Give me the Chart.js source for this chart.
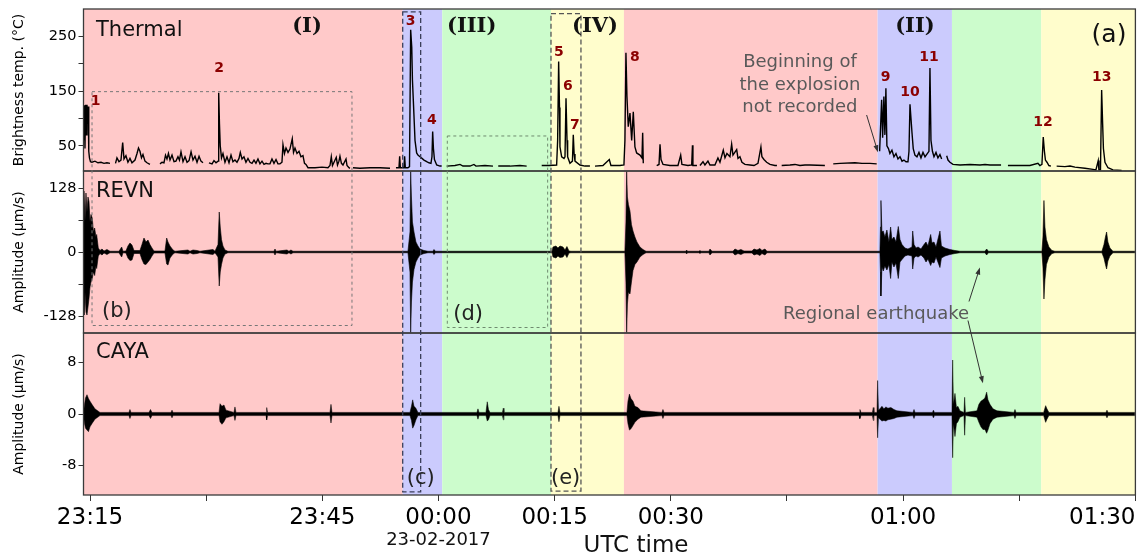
<!DOCTYPE html>
<html>
<head>
<meta charset="utf-8">
<title>Thermal and seismic records, 22-23 Feb 2017</title>
<script src="https://cdn.jsdelivr.net/npm/chart.js@4.4.1/dist/chart.umd.min.js"></script>
<style>
  html, body { margin: 0; padding: 0; background: #fff; }
  #wrap { width: 1144px; height: 559px; }
</style>
</head>
<body>
<div id="wrap"><canvas id="chart" width="1144" height="559"></canvas></div>
<script>
// time axis is in minutes relative to 00:00 UTC, 23-02-2017
const xMin = -45.84;
const xMax = 90;
const xTickValues = [-45.84, -45, -30, -15, 0, 15, 30, 45, 60, 75, 90];
const xTickLabels = ['', '23:15', '', '23:45', '00:00', '00:15', '00:30', '', '01:00', '', '01:30'];

const thermalTicks = [50, 100, 150, 200, 250];
const thermalTickLabels = ['50', '', '150', '', '250'];
const revnTicks = [-128, -64, 0, 64, 128];
const revnTickLabels = ['-128', '', '0', '', '128'];
const cayaTicks = [-8, 0, 8];
const cayaTickLabels = ['-8', '0', '8'];

// activity phases (background spans)
const phaseStart = [-45.84, -4.62, 0.49, 14.53, 23.95, 56.71, 66.31, 77.84];
const phaseEnd = [-4.62, 0.49, 14.53, 23.95, 56.71, 66.31, 77.84, 90];
const phaseColor = ['#ffc9c9', '#cbcbfd', '#ccfccc', '#fffdcc', '#ffc9c9', '#cbcbfd', '#ccfccc', '#fffdcc'];
const phaseLabelText = ['(I)', '(III)', '(IV)', '(II)'];
const phaseLabelTime = [-16.98, 4.29, 20.21, 61.53];

// thermal camera, brightness temperature (°C); null = no data
const thermalTime = [
  -45.84, -45.74, -45.65, -45.57, -45.48, -45.39, -45.31, -45.23, -45.16, -45.07, -44.94, -44.75, -44.36, -43.97, -43.58, -43.19, -42.81, -42.42, -42.0,
  -41.71, -41.52, -41.26, -41.00, -40.78, -40.61, -40.36, -40.10, -39.84, -39.58, -39.19, -38.93, -38.74, -38.55, -38.35, -38.16, -37.90, -37.64, -37.26, -37.0,
  -35.96, -35.70, -35.45, -35.25, -35.06, -34.87, -34.67, -34.41, -34.15, -33.90, -33.64, -33.45, -33.25, -32.99, -32.73, -32.47, -32.21, -31.95, -31.70, -31.44, -31.18, -30.92, -30.67, -30.41, -30.2,
  -29.64, -29.24, -28.99, -28.73, -28.47, -28.38, -28.28, -28.18, -28.02, -27.83,
  -27.57, -27.31, -27.05, -26.79, -26.54, -26.28, -26.02, -25.76, -25.59, -25.37,
  -25.12, -24.86, -24.60, -24.34, -24.08, -23.82, -23.57, -23.31, -23.05, -22.79,
  -22.53, -22.27, -22.02, -21.76, -21.50, -21.24, -20.98, -20.73, -20.47, -20.21,
  -20.08, -19.89, -19.69, -19.43, -19.18, -18.88, -18.72, -18.53, -18.27, -18.01,
  -17.76, -17.50, -17.30, -17.11, -16.85, -15.95, -15.04, -14.27, -14.01, -13.84,
  -13.69, -13.49, -13.20, -13.04, -12.85, -12.72, -12.53, -12.33, -11.94, -11.81,
  -11.56, -11.43, -11.2,
  -11.04, -10.14, -8.84, -7.55, -6.26, -6.0,
  -5.49, -5.10, -5.01, -4.92, -4.46, -4.37, -4.28, -3.94, -3.74, -3.59, -3.45, -3.36, -3.25, -3.03, -2.82, -2.65, -2.39, -2.13, -1.87, -1.52, -1.23, -0.97, -0.84, -0.75, -0.65, -0.52, -0.23, 0.19, 0.41, 0.9,
  1.06, 2.13, 2.78, 3.16, 4.07, 4.58, 4.84, 6.00, 7.04, 7.3,
  7.72, 9.23, 10.52, 11.39, 11.7,
  13.33, 14.27, 15.26, 15.39, 15.52, 15.63, 15.69, 15.91, 16.21, 16.34, 16.47, 16.60, 16.68, 16.98, 17.30, 17.41, 17.52, 17.63, 18.27, 18.92, 19.56, 19.8,
  20.21, 21.24, 22.06, 22.27, 23.44, 23.95, 24.08, 24.21, 24.34, 24.51, 24.73, 24.95, 25.16, 25.37, 25.59, 26.02, 26.28, 26.37, 26.45, 26.8,
  28.18, 28.48, 28.61, 28.74, 29.00, 29.89, 30.93, 31.28, 31.44, 32.22, 32.70, 32.80, 32.86, 33.38, 33.6,
  33.77, 34.16, 34.41, 34.80, 35.06, 35.70, 36.09, 36.35, 36.78, 37.0, 37.25, 37.64, 37.86, 38.03, 38.51, 38.68, 38.93, 39.19, 39.58, 40.23, 40.75, 41.26, 41.64, 41.77, 42.03, 42.38, 42.81, 43.45, 43.71, 44.0,
  44.32, 45.39, 46.04, 46.68, 47.33, 47.97, 49.9, 50.2,
  50.98, 51.85, 53.78, 54.69, 55.72, 56.59, 56.8,
  56.97, 57.23, 57.36, 57.52, 57.65, 57.78, 57.91, 58.11, 58.30, 58.56, 58.82, 59.08, 59.34, 59.60, 59.86, 60.11, 60.37, 60.63, 60.76, 60.89,
  61.02, 61.15, 61.31, 61.53, 61.79, 62.05, 62.31, 62.57, 62.83, 63.08, 63.34, 63.47, 63.60, 63.79, 63.99, 64.25, 64.50, 64.76, 64.98, 65.3,
  65.63, 65.80, 66.05, 66.44, 67.35, 68.64, 69.93, 70.58, 71.22, 72.65, 73.0,
  73.54, 75.09, 76.38, 77.41, 77.67, 77.93, 78.10, 78.25, 78.38, 78.58, 78.83, 79.09, 79.3,
  79.83, 80.90, 81.55, 82.19, 83.48, 84.52, 84.90, 85.20, 85.29, 85.49, 85.64, 85.77, 85.87, 86.07, 86.46, 87.10, 88.22
];
const thermalTemp = [
  60, 124, 45, 125, 70, 125, 90, 122, 40, 28, 21, 20, 22, 19, 20, 18, 19, 18, null,
  18, 28, 21, 24, 56, 26, 32, 20, 27, 19, 24, 36, 46, 40, 28, 34, 22, 19, 16, null,
  17, 20, 19, 33, 26, 36, 24, 33, 21, 22, 30, 24, 39, 21, 30, 20, 23, 39, 24, 31, 20, 31, 22, 19, null,
  19, 17, 23, 19, 22, 147, 90, 50, 28, 36,
  20, 30, 19, 33, 21, 24, 20, 27, 38, 26,
  30, 20, 27, 20, 18, 24, 18, 26, 17, 22,
  16, 18, 17, 17, 26, 18, 25, 17, 17, 20,
  52, 36, 46, 38, 44, 63, 38, 46, 36, 40,
  30, 32, 18, 16, 10, 10, 11, 10, 14, 30,
  14, 20, 29, 15, 22, 31, 18, 15, 26, 14,
  10, 9, null,
  10, 9, 10, 10, 9, null,
  10, 10, 31, 10, 10, 31, 10, 10, 12, 262, 230, 170, 134, 60, 37, 33, 30, 27, 24, 21, 19, 18, 30, 76, 45, 25, 15, 13, 13, null,
  13, 14, 16, 13, 13, 16, 13, 14, 13, null,
  13, 13, 14, 13, null,
  14, 14, 15, 60, 204, 120, 48, 30, 27, 30, 137, 60, 30, 18, 22, 70, 35, 22, 15, 13, 13, null,
  13, 14, 25, 14, 14, 15, 60, 220, 140, 85, 110, 60, 112, 48, 37, 33, 28, 74, 18, null,
  14, 16, 53, 25, 16, 14, 14, 33, 16, 14, 15, 51, 14, 14, null,
  14, 21, 15, 22, 15, 15, 28, 20, 42, 28, 36, 30, 53, 33, 43, 27, 30, 20, 16, 15, 14, 18, 48, 30, 25, 20, 16, 14, 14, null,
  14, 15, 16, 14, 15, 15, 14, null,
  17, 18, 19, 18, 18, 17, null,
  40, 134, 65, 140, 70, 155, 50, 45, 36, 42, 30, 36, 26, 30, 22, 24, 21, 21, 40, 126,
  100, 74, 45, 33, 30, 38, 28, 38, 30, 35, 40, 192, 60, 40, 30, 38, 28, 34, 26, null,
  32, 24, 20, 16, 15, 16, 15, 16, 15, 15, null,
  14, 14, 14, 18, 14, 16, 66, 40, 24, 20, 14, 13, null,
  13, 12, 13, 11, 9, 7, 6, 23, 6, 6, 152, 90, 45, 20, 10, 6, 5
];

// REVN seismic station, waveform envelope (µm/s)
const revnTime = [
  -45.84, -45.78, -45.65, -45.52, -45.39, -45.26, -45.13, -45.0, -44.87, -44.71, -44.55, -44.40, -44.23, -44.14, -43.93, -43.71, -43.45, -43.19, -42.81, -42.42,
  -41.26, -40.91, -40.74, -40.36, -40.10, -39.84, -39.58, -39.32, -38.55, -38.29, -38.03, -37.77, -37.51, -37.26, -37.0, -36.74,
  -35.32, -35.10, -34.93, -34.67, -34.28, -34.03, -32.35, -32.09, -31.70, -31.18, -30.80, -29.12, -28.86, -28.47, -28.31, -28.18, -28.02, -27.83, -27.57, -27.18,
  -21.24, -21.11, -20.98, -19.56, -19.31, -19.05, -18.79,
  -3.94, -3.68, -3.59, -3.49, -3.36, -3.16, -2.91, -2.65, -2.39, -1.87, -1.36, -0.71, -0.58, -0.39,
  14.66, 14.79, 15.17, 15.43, 15.69, 16.08, 16.34, 16.59, 16.85, 17.11,
  24.08, 24.21, 24.30, 24.40, 24.53, 24.73, 24.92, 25.12, 25.37, 25.63, 26.02, 26.41, 26.80,
  31.96, 32.05, 32.15, 33.64, 33.77, 33.90, 34.93, 35.06, 35.32, 38.03, 38.29, 38.68, 39.06, 39.45, 40.48, 40.75, 41.13, 41.52, 41.77, 42.16, 42.42,
  57.01, 57.08, 57.14, 57.27, 57.44, 57.65, 57.91, 58.17, 58.39, 58.56, 58.82, 59.08, 59.38, 59.60, 59.86, 60.24, 60.63, 61.15,
  61.24, 61.41, 61.67, 61.93, 62.31, 62.70, 62.96, 63.21, 63.56, 63.73, 63.99, 64.25, 64.76, 64.95, 65.41, 66.05, 66.70, 67.35,
  70.58, 70.79, 71.02, 77.93, 78.06, 78.19, 78.32, 78.51, 78.83, 79.22, 79.60,
  85.68, 85.94, 86.13, 86.28, 86.45, 86.71, 87.10, 89.94
];
const revnUpper = [
  10, 122, 60, 118, 80, 110, 101, 60, 75, 68, 40, 48, 30, 35, 8, 3, 6, 2, 5, 1.5,
  1.5, 10, 1.5, 2, 12, 18, 14, 3, 3, 15, 28, 20, 24, 15, 8, 2,
  2, 28, 20, 12, 4, 1.5, 4, 1.5, 4, 3, 1.5, 5, 1.5, 15, 80, 50, 25, 12, 4, 1.5,
  1.5, 6, 1.5, 4, 1.5, 4, 1.5,
  1.5, 40, 161, 110, 60, 40, 20, 12, 6, 3, 1.5, 1.5, 5, 1.5,
  1.5, 10, 12, 8, 12, 10, 4, 11, 2, 1.5,
  1.5, 60, 161, 110, 95, 82, 55, 42, 30, 20, 10, 5, 1.5,
  1.5, 4, 1.5, 1.5, 3, 1.5, 1.5, 6, 1.5, 1.5, 6, 3, 5, 2, 2, 6, 4, 7, 3, 6, 1.5,
  1.5, 50, 103, 40, 42, 30, 44, 20, 50, 25, 30, 20, 51, 25, 15, 8, 6, 10,
  42, 15, 8, 10, 6, 15, 20, 12, 35, 18, 20, 10, 42, 12, 8, 5, 3, 1.5,
  1.5, 6, 1.5, 1.5, 30, 103, 50, 25, 10, 3, 1.5,
  1.5, 15, 30, 40, 20, 8, 1.5, 1.5
];
const revnLower = [
  -10, -126, -80, -120, -126, -110, -93, -70, -60, -53, -40, -47, -28, -33, -8, -3, -6, -2, -5, -1.5,
  -1.5, -10, -1.5, -2, -12, -17, -16, -3, -3, -15, -24, -25, -20, -15, -8, -2,
  -2, -24, -26, -12, -4, -1.5, -4, -1.5, -4, -3, -1.5, -5, -1.5, -10, -68, -40, -25, -12, -4, -1.5,
  -1.5, -6, -1.5, -4, -1.5, -4, -1.5,
  -1.5, -40, -161, -100, -60, -35, -20, -12, -6, -3, -1.5, -1.5, -5, -1.5,
  -1.5, -10, -12, -8, -11, -10, -4, -11, -2, -1.5,
  -1.5, -60, -161, -104, -80, -84, -60, -37, -25, -20, -10, -5, -1.5,
  -1.5, -4, -1.5, -1.5, -3, -1.5, -1.5, -6, -1.5, -1.5, -6, -3, -5, -2, -2, -6, -4, -7, -3, -6, -1.5,
  -1.5, -40, -88, -30, -38, -28, -36, -25, -53, -20, -30, -22, -53, -20, -15, -8, -6, -8,
  -34, -12, -8, -10, -6, -12, -20, -14, -27, -20, -22, -10, -31, -12, -8, -5, -3, -1.5,
  -1.5, -6, -1.5, -1.5, -30, -94, -55, -25, -10, -3, -1.5,
  -1.5, -12, -25, -34, -18, -8, -1.5, -1.5
];

// CAYA seismic station, waveform envelope (µm/s)
const cayaTime = [
  -45.84, -45.71, -45.58, -45.39, -45.20, -45.0, -44.75, -44.36, -43.71,
  -39.97, -39.84, -39.71, -37.38, -37.19, -37.0, -34.54, -34.41, -34.28,
  -28.34, -28.21, -27.96, -27.70, -27.44, -26.41, -26.28, -26.15, -22.27, -22.18, -22.08, -14.01, -13.88, -13.75,
  -3.68, -3.49, -3.33, -3.16, -2.91, -2.65, 4.97, 5.10, 5.23, 6.13, 6.30, 6.46, 6.65, 8.26, 8.37, 8.46, 15.43, 15.56, 15.69,
  24.34, 24.47, 24.66, 24.86, 25.12, 25.37, 25.76, 26.15, 28.86, 28.99, 29.12,
  54.31, 54.43, 54.56, 56.04, 56.15, 56.24, 56.63, 56.71, 56.82, 57.01, 57.27, 57.52, 57.78, 58.04, 58.43, 58.82, 59.21, 61.28, 61.41, 61.54, 63.79, 63.92, 64.05,
  66.31, 66.40, 66.50, 66.70, 66.89, 67.08, 67.34, 67.86, 67.95, 68.05, 69.54, 69.79, 70.05, 70.31, 70.57, 70.79, 70.96, 71.22, 71.61, 72.13, 74.32, 74.45, 74.58,
  78.15, 78.41, 78.58, 78.83, 86.20, 86.33, 86.46, 89.94
];
const cayaUpper = [
  0.25, 1.5, 2.5, 3.0, 2.4, 2.0, 1.5, 0.8, 0.25,
  0.25, 0.7, 0.25, 0.25, 0.7, 0.25, 0.25, 0.6, 0.25,
  0.25, 1.6, 1.2, 1.4, 0.6, 0.25, 1.1, 0.25, 0.25, 1.0, 0.25, 0.25, 1.5, 0.25,
  0.25, 1.2, 2.2, 1.2, 0.9, 0.25, 0.25, 0.8, 0.25, 0.25, 1.9, 0.7, 0.25, 0.25, 0.9, 0.25, 0.25, 1.2, 0.25,
  0.25, 2.0, 3.1, 2.4, 2.0, 1.2, 1.0, 0.5, 0.25, 0.7, 0.25,
  0.25, 0.7, 0.25, 0.25, 1.0, 0.25, 0.25, 5.2, 0.6, 0.8, 1.2, 0.8, 1.1, 0.9, 1.0, 0.7, 0.5, 0.25, 0.7, 0.25, 0.25, 0.6, 0.25,
  0.25, 8.4, 1.5, 3.2, 1.0, 1.2, 0.5, 0.25, 2.6, 0.25, 0.5, 1.5, 2.0, 2.2, 2.5, 3.4, 2.2, 1.5, 0.8, 0.5, 0.25, 0.7, 0.25,
  0.25, 1.3, 0.8, 0.25, 0.25, 0.6, 0.25, 0.25
];
const cayaLower = [
  -0.25, -1.5, -2.2, -2.5, -2.75, -2.0, -1.5, -0.8, -0.25,
  -0.25, -0.7, -0.25, -0.25, -0.7, -0.25, -0.25, -0.6, -0.25,
  -0.25, -1.2, -1.6, -1.2, -0.6, -0.25, -1.0, -0.25, -0.25, -0.9, -0.25, -0.25, -1.4, -0.25,
  -0.25, -1.0, -2.2, -1.8, -0.9, -0.25, -0.25, -0.8, -0.25, -0.25, -1.1, -0.9, -0.25, -0.25, -0.9, -0.25, -0.25, -1.2, -0.25,
  -0.25, -1.5, -2.5, -2.3, -1.8, -1.3, -0.8, -0.5, -0.25, -0.7, -0.25,
  -0.25, -0.7, -0.25, -0.25, -1.0, -0.25, -0.25, -3.7, -0.6, -0.8, -1.1, -1.0, -1.1, -0.9, -0.8, -0.7, -0.5, -0.25, -0.7, -0.25, -0.25, -0.6, -0.25,
  -0.25, -6.8, -1.5, -3.5, -1.5, -1.2, -0.5, -0.25, -3.3, -0.25, -0.5, -1.3, -2.0, -2.4, -2.4, -3.0, -2.5, -1.5, -0.8, -0.5, -0.25, -0.7, -0.25,
  -0.25, -1.3, -0.8, -0.25, -0.25, -0.6, -0.25, -0.25
];

// numbered thermal events
const peakLabelText = ['1', '2', '3', '4', '5', '6', '7', '8', '9', '10', '11', '12', '13'];
const peakLabelTime = [-44.27, -28.34, -3.59, -0.84, 15.56, 16.72, 17.63, 25.37, 57.75, 60.88, 63.34, 78.06, 85.64];
const peakLabelTemp = [132, 191, 277, 97, 220, 158, 88, 211, 176, 147, 211, 92, 176];

// zoom windows shown in other figure panels
const boxLabel = ['(b)', '(c)', '(d)', '(e)'];
const boxStart = [-44.74, -4.62, 1.14, 14.53];
const boxEnd = [-11.17, -2.30, 14.10, 18.40];
const boxTopTemp = [149, 294.8, 68, 291.7];
const boxBottomAxis = ['yR', 'yC', 'yR', 'yC'];
const boxBottomValue = [-147, -12.1, -151, -12.0];

const FONT = "'DejaVu Sans', Verdana, sans-serif";
const toPoints = (xs, ys) => xs.map((x, i) => ({ x: x, y: ys[i] }));

function fitLeft(scale) {
    scale.width = 83.5;
    scale.paddingTop = 0;
    scale.paddingBottom = 0;
}

function leftAxis(min, max, ticks, labels, title) {
    return {
        type: 'linear',
        position: 'left',
        stack: 'panels',
        stackWeight: 1,
        bounds: 'data',
        min: min,
        max: max,
        afterBuildTicks: (s) => { s.ticks = ticks.map(v => ({ value: v })); },
        afterFit: fitLeft,
        ticks: {
            color: '#000',
            padding: 2,
            font: { family: FONT, size: 14.5 },
            callback: (v, i) => labels[i]
        },
        title: {
            display: true,
            text: title,
            color: '#000',
            font: { family: FONT, size: 14 },
            padding: { top: 10.6, bottom: 0 }
        },
        grid: { drawOnChartArea: false, drawTicks: true, tickLength: 5, color: '#333' },
        border: { display: false }
    };
}

function drawArrow(ctx, x1, y1, x2, y2) {
    const ang = Math.atan2(y2 - y1, x2 - x1);
    const head = 7, half = 2.5;
    ctx.beginPath();
    ctx.moveTo(x1, y1);
    ctx.lineTo(x2 - head * 0.6 * Math.cos(ang), y2 - head * 0.6 * Math.sin(ang));
    ctx.stroke();
    ctx.beginPath();
    ctx.moveTo(x2, y2);
    ctx.lineTo(x2 - head * Math.cos(ang) + half * Math.sin(ang), y2 - head * Math.sin(ang) - half * Math.cos(ang));
    ctx.lineTo(x2 - head * Math.cos(ang) - half * Math.sin(ang), y2 - head * Math.sin(ang) + half * Math.cos(ang));
    ctx.closePath();
    ctx.fill();
}

const annotate = {
    id: 'annotate',
    beforeDraw(chart) {
        const { ctx, chartArea: a, scales } = chart;
        ctx.save();
        ctx.fillStyle = '#fff';
        ctx.fillRect(0, 0, chart.width, chart.height);
        phaseStart.forEach((s, i) => {
            const x0 = scales.x.getPixelForValue(s);
            const x1 = scales.x.getPixelForValue(phaseEnd[i]);
            ctx.fillStyle = phaseColor[i];
            ctx.fillRect(x0, a.top, x1 - x0, a.bottom - a.top);
        });
        ctx.restore();
    },
    afterDraw(chart) {
        const { ctx, chartArea: a, scales } = chart;
        const x = scales.x, yT = scales.yT;
        ctx.save();

        // panel frames
        ctx.strokeStyle = '#3a3a3a';
        ctx.lineWidth = 1.3;
        ['yT', 'yR', 'yC'].forEach(id => {
            const s = scales[id];
            ctx.strokeRect(a.left, s.top, a.right - a.left, s.bottom - s.top);
        });

        // zoom windows
        const boxStyle = [
            { color: '#777', dash: [3, 3], width: 1, dx: 10, dy: -14 },
            { color: '#3b3f5a', dash: [5, 3], width: 1.3, dx: 4, dy: -13 },
            { color: '#6f8a6f', dash: [3, 3], width: 1, dx: 6, dy: -13 },
            { color: '#555', dash: [5, 3], width: 1.3, dx: 0, dy: -13 }
        ];
        boxLabel.forEach((lab, i) => {
            const st = boxStyle[i];
            const x0 = x.getPixelForValue(boxStart[i]);
            const x1 = x.getPixelForValue(boxEnd[i]);
            const y0 = yT.getPixelForValue(boxTopTemp[i]);
            const y1 = scales[boxBottomAxis[i]].getPixelForValue(boxBottomValue[i]);
            ctx.setLineDash(st.dash);
            ctx.strokeStyle = st.color;
            ctx.lineWidth = st.width;
            ctx.strokeRect(x0, y0, x1 - x0, y1 - y0);
            ctx.setLineDash([]);
            ctx.fillStyle = '#222';
            ctx.font = '21px ' + FONT;
            ctx.textAlign = 'left';
            ctx.textBaseline = 'middle';
            ctx.fillText(lab, x0 + st.dx, y1 + st.dy);
        });

        // panel names
        ctx.fillStyle = '#111';
        ctx.font = '21px ' + FONT;
        ctx.textAlign = 'left';
        ctx.textBaseline = 'alphabetic';
        ctx.fillText('Thermal', a.left + 12.5, scales.yT.top + 27);
        ctx.fillText('REVN', a.left + 12.5, scales.yR.top + 26);
        ctx.fillText('CAYA', a.left + 12.5, scales.yC.top + 25);
        ctx.font = '25px ' + FONT;
        ctx.textAlign = 'right';
        ctx.fillText('(a)', a.right - 9, a.top + 33);

        // phase labels
        ctx.font = 'bold 21px "DejaVu Serif", serif';
        ctx.textAlign = 'center';
        ctx.textBaseline = 'middle';
        phaseLabelText.forEach((t, i) => {
            ctx.fillText(t, x.getPixelForValue(phaseLabelTime[i]), a.top + 18);
        });

        // numbered events
        ctx.fillStyle = '#8b0000';
        ctx.font = 'bold 14px ' + FONT;
        peakLabelText.forEach((t, i) => {
            ctx.fillText(t, x.getPixelForValue(peakLabelTime[i]), yT.getPixelForValue(peakLabelTemp[i]));
        });

        // notes with arrows
        ctx.fillStyle = '#595959';
        ctx.font = '18px ' + FONT;
        const noteX = x.getPixelForValue(46.68);
        ['Beginning of', 'the explosion', 'not recorded'].forEach((line, i) => {
            ctx.fillText(line, noteX, yT.getPixelForValue(201.7) + i * 22.5);
        });
        ctx.fillText('Regional earthquake', x.getPixelForValue(56.5), scales.yR.getPixelForValue(-125));

        ctx.strokeStyle = '#333';
        ctx.fillStyle = '#333';
        ctx.lineWidth = 1;
        const arrows = [
            ['yT', 55.29, 106.3, 'yT', 56.75, 38.4],
            ['yR', 68.51, -99, 'yR', 69.92, -31],
            ['yR', 68.38, -137, 'yC', 70.31, 4.8]
        ];
        arrows.forEach(([s1, t1, v1, s2, t2, v2]) => {
            drawArrow(ctx, x.getPixelForValue(t1), scales[s1].getPixelForValue(v1),
                x.getPixelForValue(t2), scales[s2].getPixelForValue(v2));
        });

        // date under the 00:00 tick and axis title
        ctx.fillStyle = '#111';
        ctx.font = '18px ' + FONT;
        ctx.fillText('23-02-2017', x.getPixelForValue(0), 540);
        ctx.font = '23px ' + FONT;
        ctx.fillText('UTC time', 636, 546);
        ctx.restore();
    }
};

new Chart(document.getElementById('chart'), {
    type: 'line',
    data: {
        datasets: [
            {
                label: 'Thermal',
                data: toPoints(thermalTime, thermalTemp),
                yAxisID: 'yT',
                borderColor: '#000',
                borderWidth: 1.4,
                pointRadius: 0,
                spanGaps: false,
                fill: false
            },
            {
                label: 'REVN',
                data: toPoints(revnTime, revnUpper),
                yAxisID: 'yR',
                borderColor: '#000',
                backgroundColor: '#000',
                borderWidth: 0.6,
                pointRadius: 0,
                fill: '+1'
            },
            {
                label: 'REVN (lower)',
                data: toPoints(revnTime, revnLower),
                yAxisID: 'yR',
                borderColor: '#000',
                borderWidth: 0.6,
                pointRadius: 0,
                fill: false
            },
            {
                label: 'CAYA',
                data: toPoints(cayaTime, cayaUpper),
                yAxisID: 'yC',
                borderColor: '#000',
                backgroundColor: '#000',
                borderWidth: 0.5,
                pointRadius: 0,
                fill: '+1'
            },
            {
                label: 'CAYA (lower)',
                data: toPoints(cayaTime, cayaLower),
                yAxisID: 'yC',
                borderColor: '#000',
                borderWidth: 0.5,
                pointRadius: 0,
                fill: false
            }
        ]
    },
    options: {
        responsive: false,
        animation: false,
        events: [],
        layout: { padding: { top: 9, right: 8.6, bottom: 0, left: 0 } },
        plugins: {
            legend: { display: false },
            tooltip: { enabled: false }
        },
        scales: {
            x: {
                type: 'linear',
                position: 'bottom',
                bounds: 'data',
                min: xMin,
                max: xMax,
                afterBuildTicks: (s) => { s.ticks = xTickValues.map(v => ({ value: v })); },
                afterFit: (s) => { s.height = 64; s.paddingLeft = 0; s.paddingRight = 0; },
                ticks: {
                    autoSkip: false,
                    maxRotation: 0,
                    align: 'inner',
                    padding: 3,
                    color: '#000',
                    font: { family: FONT, size: 23 },
                    callback: (v, i) => xTickLabels[i]
                },
                grid: {
                    drawOnChartArea: false,
                    drawTicks: true,
                    tickLength: 6,
                    color: '#333',
                    tickColor: (c) => c.index === 0 ? 'rgba(0,0,0,0)' : '#333'
                },
                border: { display: false }
            },
            yC: leftAxis(-12.6, 12.6, cayaTicks, cayaTickLabels, 'Amplitude (μm/s)'),
            yR: leftAxis(-162, 162, revnTicks, revnTickLabels, 'Amplitude (μm/s)'),
            yT: leftAxis(4, 300, thermalTicks, thermalTickLabels, 'Brightness temp. (°C)')
        }
    },
    plugins: [annotate]
});
</script>
</body>
</html>
